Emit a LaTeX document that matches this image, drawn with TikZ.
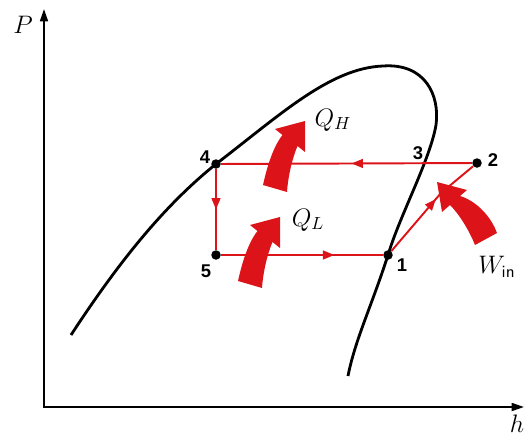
\documentclass[tikz,border=0pt]{standalone}
\usepackage{fontspec}
\newfontfamily\numfont{Liberation Sans}
\usetikzlibrary{arrows.meta,decorations.markings}
\definecolor{cyclered}{RGB}{220,20,25}

\begin{document}
\begin{tikzpicture}[x=0.02cm, y=-0.02cm,
    axis/.style={line width=1.1pt, -{Triangle[length=7pt,width=4.5pt]}},
    dome/.style={line width=1.6pt},
    leg/.style={cyclered, line width=1.1pt},
    dot/.style={circle, fill=black, inner sep=0pt, minimum size=0.19cm},
    num/.style={font=\numfont\bfseries\fontsize{10.5}{12}\selectfont},
    lbl/.style={font=\fontsize{14}{16}\selectfont},
    midarrow/.style={postaction={decorate, decoration={markings,
        mark=at position #1 with {\arrow{Triangle[length=6.5pt,width=5pt]}}}}},
    midarrow/.default=0.5,
    heatarrow/.pic={
      \fill[cyclered] (-12,-4) .. controls (-8,-22) and (-2,-42) .. (7.5,-54)
        -- (0,-60) -- (30,-68) -- (30,-37) -- (22.5,-43)
        .. controls (17,-30) and (13,-12) .. (12,3) -- cycle;
    }
]
\useasboundingbox (0,0) rectangle (525,437);

% Axes
\coordinate (O) at (44,408);
\coordinate (ytip) at (44,9);
\coordinate (xtip) at (524,407);
\draw[axis] (O) -- (ytip);
\draw[axis] (43.5,407) -- (xtip);
\node[lbl] (P) at (23,25) {$P$};
\node[lbl] (h) at (517,424) {$h$};

% Saturation dome
\draw[dome] (71,335) .. controls (120,260) and (165,205) .. (216,164)
  .. controls (280,115) and (330,68) .. (383,66)
  .. controls (425,63) and (440,95) .. (436,125)
  .. controls (430,160) and (400,215) .. (388,255)
  .. controls (372,305) and (355,340) .. (348,376);

% States
\node[dot] (p4) at (216,164) {};
\node[dot] (p2) at (477,163) {};
\node[dot] (p5) at (216,255) {};
\node[dot] (p1) at (388,255) {};
\coordinate (bend) at (441,193);

\node[num] (n4) at (205,157) {4};
\node[num] (n5) at (206,271) {5};
\node[num] (n3) at (418,153) {3};
\node[num] (n2) at (493,160) {2};
\node[num] (n1) at (402,265) {1};

% Cycle
\draw[leg, midarrow=0.48] (p2) -- (p4);
\draw[leg, midarrow] (p4) -- (p5);
\draw[leg, midarrow=0.7] (p5) -- (p1);
\draw[leg, midarrow=0.58] (p1) -- (bend) -- (p2);

% Heat and work
\pic at (275,189) {heatarrow};
\pic at (250,285) {heatarrow};
\fill[cyclered] (475,245) .. controls (469,230) and (459,214) .. (450,205)
  -- (442,212) -- (437,182) -- (467,190) -- (460,196)
  .. controls (474,200) and (490,214) .. (497,233) -- cycle;

\node[lbl] (QH) at (333,120) {$Q_H$};
\node[lbl] (QL) at (308,220) {$Q_L$};
\node[lbl] (Win) at (497,267) {$W_{\mathsf{in}}$};

\end{tikzpicture}
\end{document}
